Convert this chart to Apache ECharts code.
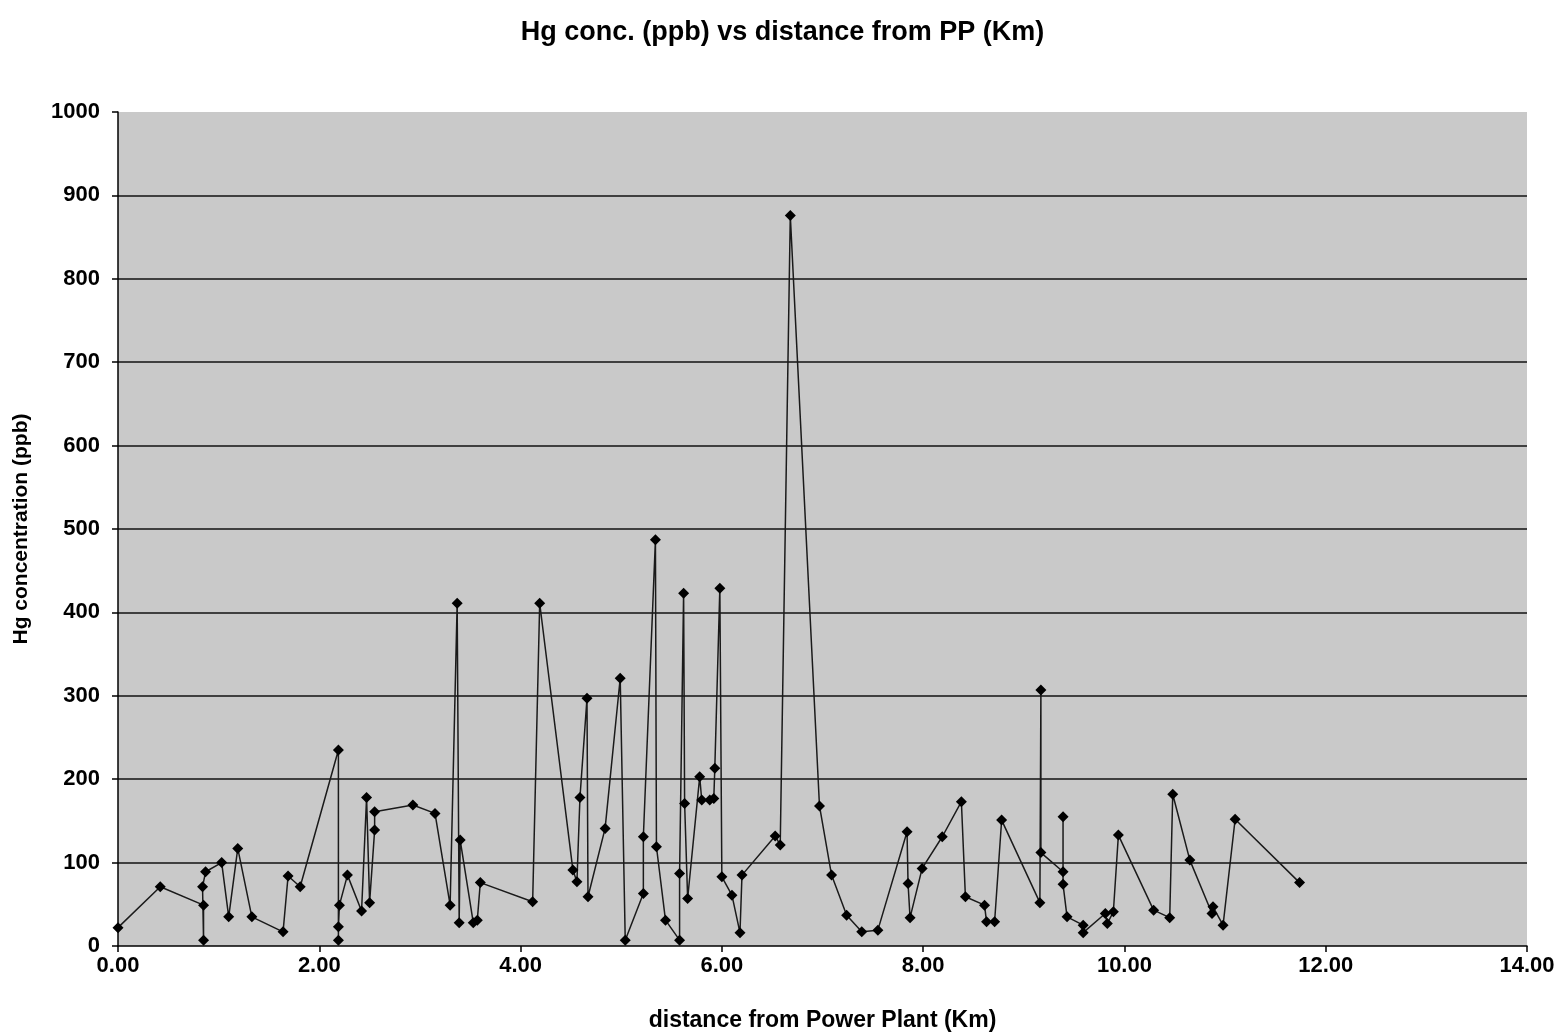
<!DOCTYPE html>
<html>
<head>
<meta charset="utf-8">
<script src="https://cdn.jsdelivr.net/npm/echarts@6/dist/echarts.min.js"></script>
<style>
  html, body { margin: 0; padding: 0; background: #ffffff; }
  #chart { width: 1565px; height: 1036px; }
</style>
</head>
<body>
<div id="chart"></div>
<script>
// Sampling distances from the power plant (km), in sampling order
const distanceKm = [
  0.00, 0.42, 0.85, 0.85, 0.84, 0.87, 1.03, 1.10, 1.19, 1.33,
  1.64, 1.69, 1.81, 2.19, 2.19, 2.19, 2.20, 2.28, 2.42, 2.47,
  2.50, 2.55, 2.55, 2.93, 3.15, 3.30, 3.37, 3.39, 3.40, 3.53,
  3.57, 3.60, 4.12, 4.19, 4.52, 4.56, 4.59, 4.66, 4.67, 4.84,
  4.99, 5.04, 5.22, 5.22, 5.34, 5.35, 5.44, 5.58, 5.58, 5.62,
  5.63, 5.66, 5.78, 5.80, 5.88, 5.92, 5.93, 5.98, 6.00, 6.10,
  6.18, 6.20, 6.53, 6.58, 6.68, 6.97, 7.09, 7.24, 7.39, 7.55,
  7.84, 7.85, 7.87, 7.99, 8.19, 8.38, 8.42, 8.61, 8.63, 8.71,
  8.78, 9.16, 9.17, 9.17, 9.39, 9.39, 9.39, 9.43, 9.59, 9.59,
  9.81, 9.83, 9.89, 9.94, 10.29, 10.45, 10.48, 10.65, 10.87, 10.88,
  10.98, 11.10, 11.74
];

// Hg concentration (ppb) at each sampling point
const hgPpb = [
  22, 71, 49, 7, 71, 89, 100, 35, 117, 35,
  17, 84, 71, 235, 7, 23, 49, 85, 42, 178,
  52, 139, 161, 169, 159, 49, 411, 28, 127, 28,
  31, 76, 53, 411, 91, 77, 178, 297, 59, 141,
  321, 7, 63, 131, 487, 119, 31, 7, 87, 423,
  171, 57, 203, 175, 175, 177, 213, 429, 83, 61,
  16, 85, 132, 121, 876, 168, 85, 37, 17, 19,
  137, 75, 34, 93, 131, 173, 59, 49, 29, 29,
  151, 52, 307, 112, 89, 155, 74, 35, 25, 16,
  39, 27, 41, 133, 43, 34, 182, 103, 39, 47,
  25, 152, 76
];

// Axis ranges and tick steps
const xRange = [0, 14];
const xStep = 2;
const yRange = [0, 1000];
const yStep = 100;

const points = distanceKm.map((d, i) => [d, hgPpb[i]]);

const FONT = '"Liberation Sans", Arial, sans-serif';

const chart = echarts.init(document.getElementById('chart'), null, { renderer: 'canvas' });

chart.setOption({
  backgroundColor: '#ffffff',
  animation: false,
  title: {
    text: 'Hg conc. (ppb) vs distance from PP (Km)',
    left: 'center',
    top: 14,
    textStyle: { fontFamily: FONT, fontWeight: 'bold', fontSize: 27, color: '#000' }
  },
  grid: {
    left: 118,
    right: 38,
    top: 112,
    bottom: 90,
    outerBoundsMode: 'none',
    show: true,
    backgroundColor: '#c9c9c9',
    borderWidth: 0
  },
  xAxis: {
    type: 'value',
    min: xRange[0],
    max: xRange[1],
    interval: xStep,
    name: 'distance from Power Plant (Km)',
    nameLocation: 'middle',
    nameGap: 63,
    nameTextStyle: { fontFamily: FONT, fontWeight: 'bold', fontSize: 23, color: '#000' },
    axisLine: { show: true, lineStyle: { color: '#000', width: 1.5 } },
    axisTick: { show: true, inside: false, length: 6, lineStyle: { color: '#000', width: 1.5 } },
    axisLabel: {
      fontFamily: FONT, fontWeight: 'bold', fontSize: 22, color: '#000', margin: 9,
      formatter: v => v.toFixed(2)
    },
    splitLine: { show: false }
  },
  yAxis: {
    type: 'value',
    min: yRange[0],
    max: yRange[1],
    interval: yStep,
    name: 'Hg concentration (ppb)',
    nameLocation: 'middle',
    nameGap: 86,
    nameRotate: 90,
    nameTextStyle: { fontFamily: FONT, fontWeight: 'bold', fontSize: 21, color: '#000' },
    axisLine: { show: true, lineStyle: { color: '#000', width: 1.5 } },
    axisTick: { show: true, inside: false, length: 6, lineStyle: { color: '#000', width: 1.5 } },
    axisLabel: {
      fontFamily: FONT, fontWeight: 'bold', fontSize: 22, color: '#000', margin: 18,
      formatter: v => String(v)
    },
    splitLine: { show: true, showMaxLine: false, showMinLine: false, lineStyle: { color: '#111', width: 1.5 } }
  },
  series: [{
    type: 'line',
    data: points,
    symbol: 'diamond',
    symbolSize: 11,
    showAllSymbol: true,
    itemStyle: { color: '#000' },
    lineStyle: { color: '#1a1a1a', width: 1.5 },
    z: 5
  }]
});
</script>
</body>
</html>
